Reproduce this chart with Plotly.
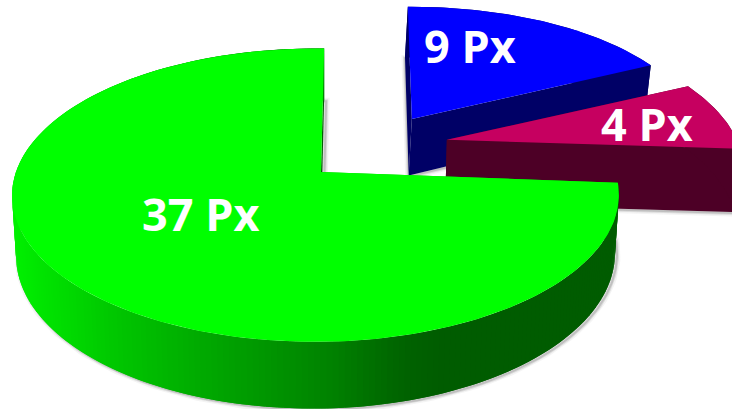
import math
import plotly.graph_objects as go

# Share of each slice, clockwise from the top of the pie
names = ["Blue", "Magenta", "Green"]
values = [9, 4, 37]
top_colors = ["#0000FF", "#C60060", "#00FF00"]
wall_colors = ["#000066", "#4D0026", "#00C800"]
explode_u = [0.30, 0.425, 0.0]
explode_v = [-0.42, -0.235, 0.0]
depths = [58, 64, 58]
label_x = [470, 647, 200]
label_y = [45, 123, 213]
green_stops = [(12, (0, 240, 0)), (110, (0, 200, 0)), (200, (0, 170, 0)),
               (330, (0, 130, 0)), (400, (0, 100, 0)), (440, (0, 92, 0)), (620, (0, 92, 0))]

# Per-slice adjustment around the slice tip: scale, x shear, y shear, shift x, shift y
slice_warp = [(1.03, -0.036, -0.02, 7, 3), (1.035, 0, -0.006, 4, 0), (1, 0, 0, 0, 0)]

# Perspective camera of the tilted disc
CX, CY = 321, 172
RX, RY = 299.5, 143
K, M = 0.158, 0.018
BASE_SCALE = 0.987
START_DEG = 0.7


def project(u, v, depth=None):
    w = 1 - K * v + M * u
    s = BASE_SCALE if depth else 1
    x = CX + s * RX * u / w
    y = CY + s * RY * v / w + (depth / w if depth else 0)
    return x, y


def warp(pt, tip, params):
    scale, sx, sy, dx, dy = params
    px, py = (pt[0] - tip[0]) * scale, (pt[1] - tip[1]) * scale
    return tip[0] + px + sx * py + dx, tip[1] + py + sy * px + dy


def rim(du, dv, a0, a1, tip, params, depth=None):
    n = max(2, int(abs(a1 - a0) / 1.0) + 1)
    pts = []
    for i in range(n + 1):
        t = math.radians(a0 + (a1 - a0) * i / n)
        pts.append(warp(project(du + math.sin(t), dv - math.cos(t), depth), tip, params))
    return pts


def poly(fig, pts, fill):
    fig.add_trace(go.Scatter(
        x=[p[0] for p in pts] + [pts[0][0]],
        y=[p[1] for p in pts] + [pts[0][1]],
        mode="lines", fill="toself", fillcolor=fill,
        line=dict(color=fill, width=0),
        hoverinfo="skip", showlegend=False))


def soft_edge(fig, pts, dx=0):
    # Soft drop shadow following the foot of the slice
    for width, alpha in ((7, 0.06), (4, 0.12), (2, 0.18)):
        fig.add_trace(go.Scatter(
            x=[p[0] + dx for p in pts], y=[p[1] + 1 for p in pts],
            mode="lines", line=dict(color=f"rgba(60,60,60,{alpha})", width=width),
            hoverinfo="skip", showlegend=False))


def green_shade(x):
    for (x0, c0), (x1, c1) in zip(green_stops, green_stops[1:]):
        if x <= x1:
            f = max(0, (x - x0) / (x1 - x0))
            return "rgb({},{},{})".format(*[round(a + (b - a) * f) for a, b in zip(c0, c1)])
    return "rgb(0,92,0)"


fig = go.Figure()
total = sum(values)
angles = []
a = START_DEG
for v in values:
    angles.append((a, a + 360 * v / total))
    a += 360 * v / total

for i in range(len(values)):
    a0, a1 = angles[i]
    du, dv = explode_u[i], explode_v[i]
    params = slice_warp[i]
    depth = depths[i]
    anchor = project(du, dv)
    tip_top = warp(anchor, anchor, params)
    tip_base = warp(project(du, dv, depth), anchor, params)
    arc_top = rim(du, dv, a0, a1, anchor, params)
    arc_base = rim(du, dv, a0, a1, anchor, params, depth)

    soft_edge(fig, [tip_base] + arc_base + [tip_base], dx=2 if i == 2 else 0)

    # Radial cut faces
    poly(fig, [tip_top, arc_top[0], arc_base[0], tip_base], wall_colors[i])
    poly(fig, [tip_top, arc_top[-1], arc_base[-1], tip_base],
         "#005C00" if i == 2 else wall_colors[i])

    # Outer curved wall; neighbouring green strips overlap so no seams show
    if i == 2:
        last = len(arc_top) - 1
        for j in range(last):
            k = min(j + 2, last)
            xm = (arc_top[j][0] + arc_top[j + 1][0]) / 2
            poly(fig, arc_top[j:k + 1] + arc_base[j:k + 1][::-1], green_shade(xm))
    else:
        poly(fig, arc_top + arc_base[::-1], wall_colors[i])

    # Top face
    poly(fig, [tip_top] + arc_top, top_colors[i])

annotations = [
    dict(x=label_x[i], y=label_y[i], xref="x", yref="y", text=f"<b>{values[i]} Px</b>",
         showarrow=False, font=dict(family="Open Sans", size=45, color="white"))
    for i in range(len(values))
]

fig.update_layout(
    width=732, height=409, margin=dict(l=0, r=0, t=0, b=0),
    paper_bgcolor="white", plot_bgcolor="white", showlegend=False,
    xaxis=dict(range=[0, 732], visible=False, fixedrange=True),
    yaxis=dict(range=[409, 0], visible=False, fixedrange=True),
    annotations=annotations,
)
fig.write_html("out.html", config={"displayModeBar": False})
